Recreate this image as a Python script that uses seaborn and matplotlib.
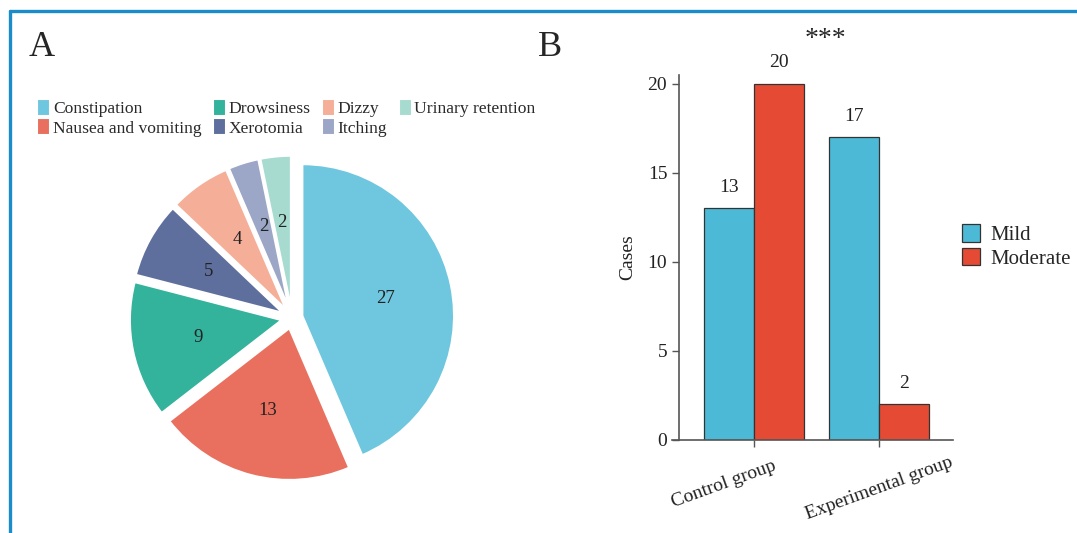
import matplotlib
matplotlib.use("Agg")
import matplotlib.pyplot as plt
import matplotlib.transforms as mtransforms
from matplotlib.lines import Line2D
import seaborn as sns
import pandas as pd

# panel A: adverse reactions
reactions = ["Constipation", "Nausea and vomiting", "Drowsiness", "Xerotomia",
             "Dizzy", "Itching", "Urinary retention"]
reaction_counts = [27, 13, 9, 5, 4, 2, 2]
pie_colors = ["#6ec7de", "#e9705f", "#33b29c", "#5f6f9d", "#f5ae97", "#9ca6c6", "#a7dbd0"]

# panel B: severity by group
groups = ["Control group", "Experimental group"]
mild = [13, 17]
moderate = [20, 2]
severity_colors = {"Mild": "#4cbad7", "Moderate": "#e54b34"}

sns.set_theme(style="white")
plt.rcParams["font.family"] = ["Liberation Serif", "DejaVu Serif"]

fig = plt.figure(figsize=(10.77, 5.33), dpi=100)

# ---- A: pie ----
ax1 = fig.add_axes([0.1021, 0.0619, 0.338, 0.683])
wedges, texts, autotexts = ax1.pie(
    reaction_counts, colors=pie_colors, startangle=90, counterclock=False,
    explode=[0.07] * len(reaction_counts),
    autopct=lambda p: "%d" % round(p * sum(reaction_counts) / 100),
    pctdistance=0.56, radius=1.0,
    wedgeprops=dict(edgecolor="white", linewidth=1.5),
    textprops=dict(fontsize=13.5, color="#222222"))
ax1.set_xlim(-1.2, 1.2)
ax1.set_ylim(-1.2, 1.2)
fig.legend(wedges, reactions, ncol=4, loc="upper left",
           bbox_to_anchor=(37 / 1077, 1 - 99 / 533), frameon=False,
           fontsize=12.6, handlelength=0.75, handleheight=1.1,
           handletextpad=0.15, columnspacing=0.65, labelspacing=0.05,
           borderaxespad=0, borderpad=0, labelcolor="#2a2a2a")

# ---- B: grouped bars ----
df = pd.DataFrame({
    "group": groups * 2,
    "severity": ["Mild"] * len(groups) + ["Moderate"] * len(groups),
    "cases": mild + moderate,
})
ax2 = fig.add_axes([0.624, 0.1745, 0.261, 0.685])
sns.barplot(data=df, x="group", y="cases", hue="severity", palette=severity_colors,
            width=0.8, edgecolor="#333333", linewidth=0.9, saturation=1, ax=ax2)
for c in ax2.containers:
    ax2.bar_label(c, padding=9, fontsize=14, color="#222222")
ax2.set_xlim(-0.656, 1.592)
ax2.set_ylim(0, 20.5)
ax2.set_yticks([0, 5, 10, 15, 20])
ax2.spines["left"].set_position(("data", -0.6))
ax2.spines["right"].set_visible(False)
ax2.spines["top"].set_visible(False)
for s in ["left", "bottom"]:
    ax2.spines[s].set_color("#555555")
    ax2.spines[s].set_linewidth(1.2)
ax2.tick_params(axis="both", direction="out", length=5, width=1, color="#555555",
                labelsize=14, labelcolor="#222222", left=True, bottom=True)
ax2.set_xticks([0, 1])
ax2.set_xticklabels(groups, rotation=20, ha="center", rotation_mode="default")
shifts = [(-30, -6), (0, -2)]
for lab, (dx, dy) in zip(ax2.get_xticklabels(), shifts):
    lab.set_transform(lab.get_transform() +
                      mtransforms.ScaledTranslation(dx / 100, dy / 100, fig.dpi_scale_trans))
ax2.set_xlabel("")
ax2.set_ylabel("Cases", fontsize=14, color="#222222", labelpad=8)
ax2.legend(loc="center left", bbox_to_anchor=(1.032, 0.53), frameon=False,
           fontsize=15, handlelength=0.85, handleheight=0.95,
           handletextpad=0.5, labelspacing=0.1, borderaxespad=0, borderpad=0)

fig.text(825 / 1077, 1 - 40 / 533, "***", fontsize=20, ha="center", va="center")
fig.text(42 / 1077, 1 - 48 / 533, "A", fontsize=26, ha="center", va="center")
fig.text(550 / 1077, 1 - 48 / 533, "B", fontsize=26, ha="center", va="center")

# blue frame on the left and top edges
fig.add_artist(Line2D([10 / 1077, 10 / 1077], [0, 1 - 11 / 533],
                      transform=fig.transFigure, color="#1a8cca", linewidth=2.4))
fig.add_artist(Line2D([10 / 1077, 1], [1 - 11 / 533, 1 - 11 / 533],
                      transform=fig.transFigure, color="#1a8cca", linewidth=2.4))

fig.savefig("out.png", dpi=100)
